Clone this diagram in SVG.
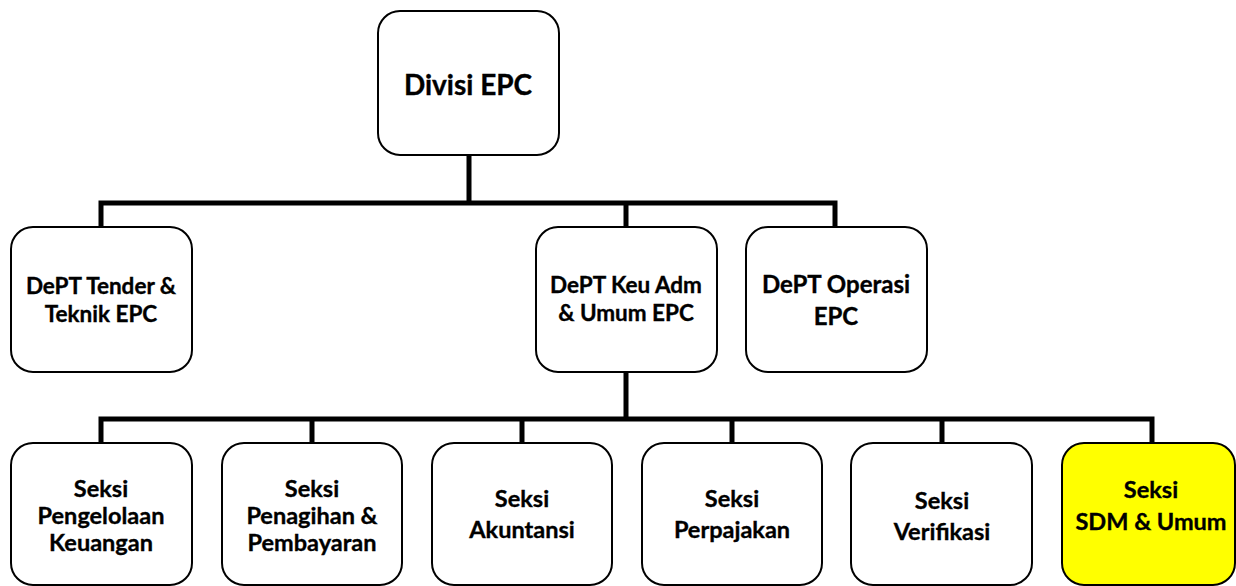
<svg xmlns="http://www.w3.org/2000/svg" width="1236" height="586" viewBox="0 0 1236 586">
<style>
.box{fill:#fff;stroke:#000;stroke-width:2}
.yl{fill:#ffff00;stroke:#000;stroke-width:2}
.conn{stroke:#000;stroke-width:5;fill:none;stroke-linecap:square}
text{font-family:Lato,"Liberation Sans",sans-serif;font-weight:bold;fill:#000;stroke:#000;stroke-width:0.35;text-anchor:middle}
.t1{font-size:28px}
.t2{font-size:22.5px}
.t3{font-size:24px}
.t4{font-size:23.5px}
</style>
<rect width="1236" height="586" fill="#fff"/>
<g id="connectors">
<path class="conn" d="M469 155V203M101 203H835M101 203V227M626 203V227M835 203V227"/>
<path class="conn" d="M626 372V419M101 419H1152M101 419V443M312 419V443M522 419V443M732 419V443M942 419V443M1152 419V443"/>
</g>
<g id="divisi"><rect class="box" x="378" y="11" width="181" height="144" rx="22"/><text class="t1" x="468" y="95">Divisi EPC</text></g>
<g id="tender"><rect class="box" x="11" y="227" width="181" height="145" rx="22"/><text class="t2" x="101" y="294">DePT Tender &amp;</text><text class="t2" x="101" y="322">Teknik EPC</text></g>
<g id="keu"><rect class="box" x="536" y="227" width="181" height="145" rx="22"/><text class="t2" x="626" y="293">DePT Keu Adm</text><text class="t2" x="626" y="321">&amp; Umum EPC</text></g>
<g id="operasi"><rect class="box" x="746" y="227" width="181" height="145" rx="22"/><text class="t3" x="836" y="293">DePT Operasi</text><text class="t3" x="836" y="325">EPC</text></g>
<g id="pengelolaan"><rect class="box" x="11" y="443" width="181" height="142" rx="22"/><text class="t4" x="101" y="497">Seksi</text><text class="t4" x="101" y="524">Pengelolaan</text><text class="t4" x="101" y="551">Keuangan</text></g>
<g id="penagihan"><rect class="box" x="222" y="443" width="180" height="142" rx="22"/><text class="t4" x="312" y="497">Seksi</text><text class="t4" x="312" y="524">Penagihan &amp;</text><text class="t4" x="312" y="551">Pembayaran</text></g>
<g id="akuntansi"><rect class="box" x="432" y="443" width="180" height="142" rx="22"/><text class="t4" x="522" y="507">Seksi</text><text class="t4" x="522" y="538">Akuntansi</text></g>
<g id="perpajakan"><rect class="box" x="642" y="443" width="180" height="142" rx="22"/><text class="t4" x="732" y="507">Seksi</text><text class="t4" x="732" y="538">Perpajakan</text></g>
<g id="verifikasi"><rect class="box" x="851" y="443" width="181" height="142" rx="22"/><text class="t4" x="942" y="509">Seksi</text><text class="t4" x="942" y="540">Verifikasi</text></g>
<g id="sdm"><rect class="yl" x="1062" y="443" width="173" height="142" rx="22"/><text class="t4" x="1151" y="498">Seksi</text><text class="t4" x="1151" y="530">SDM &amp; Umum</text></g>
</svg>
